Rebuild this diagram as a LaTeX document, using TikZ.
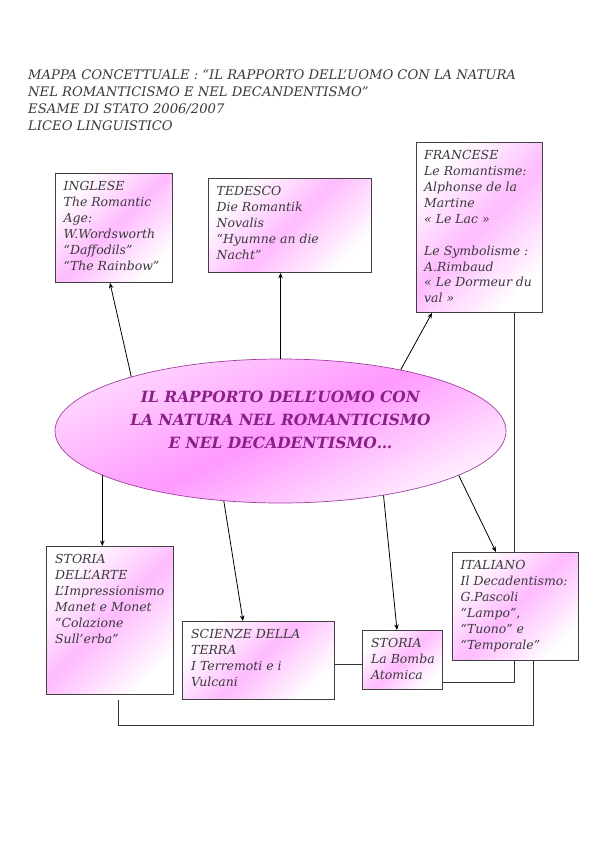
\documentclass[tikz,border=0pt]{standalone}
\usepackage{fontspec}
\setmainfont{DejaVu Serif}
\usetikzlibrary{calc,shapes.geometric,arrows.meta}
\definecolor{boxpink}{HTML}{FFBBFF}
\definecolor{ellpink}{HTML}{FF99FF}
\definecolor{elltop}{HTML}{FFD6FF}
\definecolor{ellbot}{HTML}{FFF2FF}
\definecolor{ellline}{HTML}{A040A0}
\definecolor{elltext}{HTML}{8A1F88}
\definecolor{boxline}{HTML}{404040}
\definecolor{txtgray}{HTML}{3A3A3A}
\definecolor{linegray}{HTML}{333333}
\tikzset{
  mbox/.style={draw=boxline, line width=0.9bp, anchor=north west, inner sep=0pt,
    top color=white, bottom color=white, middle color=boxpink, shading angle=45},
  mtext/.style={anchor=north west, inner sep=0pt, align=left,
    font=\itshape\fontsize{12.5}{16}\selectfont, text=txtgray},
  arr/.style={-{Stealth[length=5.5bp,width=4.5bp]}, line width=0.8bp, draw=black},
  conn/.style={line width=0.8bp, draw=linegray}
}
\begin{document}
\begin{tikzpicture}[x=1bp,y=-1bp]
\fill[white] (0,0) rectangle (596,842);
\useasboundingbox (0,0) rectangle (596,842);

% title
\node[anchor=north west, inner sep=0pt, align=left,
  font=\itshape\fontsize{13.2}{17}\selectfont, text=txtgray] (title) at (28,70)
  {MAPPA CONCETTUALE : “IL RAPPORTO DELL’UOMO CON LA NATURA\\
   NEL ROMANTICISMO E NEL DECANDENTISMO”\\
   ESAME DI STATO 2006/2007\\
   LICEO LINGUISTICO};

% boxes
\node[mbox, minimum width=117bp, minimum height=109bp] (ingl) at (55,173) {};
\node[mtext] (inglt) at ($(ingl.north west)+(8.5,8)$)
  {INGLESE\\The Romantic\\Age:\\W.Wordsworth\\“Daffodils”\\“The Rainbow”};

\node[mbox, minimum width=163bp, minimum height=94bp] (ted) at (208,178) {};
\node[mtext] (tedt) at ($(ted.north west)+(8.5,8)$)
  {TEDESCO\\Die Romantik\\Novalis\\“Hyumne an die\\Nacht”};

\node[mbox, minimum width=126bp, minimum height=170bp] (fran) at (416,142) {};
\node[mtext] (frant) at ($(fran.north west)+(8,8)$)
  {FRANCESE\\Le Romantisme:\\Alphonse de la\\Martine\\« Le Lac »\\ \mbox{}\\Le Symbolisme :\\A.Rimbaud\\« Le Dormeur du\\val »};

\node[mbox, minimum width=127bp, minimum height=148bp] (arte) at (46,546) {};
\node[mtext] (artet) at ($(arte.north west)+(9,8)$)
  {STORIA\\DELL’ARTE\\L’Impressionismo\\Manet e Monet\\“Colazione\\Sull’erba”};

\node[mbox, minimum width=152bp, minimum height=78bp] (sci) at (182,621) {};
\node[mtext] (scit) at ($(sci.north west)+(9,8.5)$)
  {SCIENZE DELLA\\TERRA\\I Terremoti e i\\Vulcani};

\node[mbox, minimum width=80bp, minimum height=59bp] (stor) at (362,630) {};
\node[mtext] (stort) at ($(stor.north west)+(9,8.5)$)
  {STORIA\\La Bomba\\Atomica};

\node[mbox, minimum width=126bp, minimum height=108bp] (ital) at (452,552) {};
\node[mtext] (italt) at ($(ital.north west)+(8.5,8.5)$)
  {ITALIANO\\Il Decadentismo:\\G.Pascoli\\“Lampo”,\\“Tuono” e\\“Temporale”};

% central ellipse
\node[ellipse, draw=ellline, line width=0.7bp, minimum width=451bp, minimum height=144bp,
  inner sep=0pt, top color=elltop, bottom color=ellbot, middle color=ellpink, shading angle=25]
  (ell) at (280.5,431) {};
\node[align=center, inner sep=0pt, text=elltext,
  font=\bfseries\itshape\fontsize{15.5}{23}\selectfont] (ellt) at ($(ell.center)+(0,-11)$)
  {IL RAPPORTO DELL’UOMO CON\\LA NATURA NEL ROMANTICISMO\\E NEL DECADENTISMO…};

% arrows
\coordinate (eN) at (ell.north);
\coordinate (eA) at (ell.194);
\draw[arr] (ell.160.95) -- ($(ingl.south west)+(55,0)$);
\draw[arr] (eN) -- (eN |- ted.south);
\draw[arr] (ell.27.4) -- ($(fran.south west)+(16,0)$);
\draw[arr] (eA) -- (eA |- arte.north);
\draw[arr] (ell.231.7) -- ($(sci.north west)+(61,0)$);
\draw[arr] (ell.328.5) -- ($(stor.north west)+(35,0)$);
\draw[arr] (ell.346.9) -- ($(ital.north west)+(44,0)$);

% plain connectors
\coordinate (fb) at ($(fran.south west)+(98.5,0)$);
\draw[conn] (fb) -- (fb |- ital.north);
\coordinate (ss) at ($(sci.east)+(0,4)$);
\draw[conn] (ss) -- (ss -| stor.west);
\coordinate (si) at ($(stor.south east)+(0,-7.5)$);
\coordinate (ib) at ($(ital.south west)+(62,0)$);
\draw[conn] (si) -| (ib);
\coordinate (ab) at ($(arte.south west)+(72,5)$);
\coordinate (ib2) at ($(ital.south west)+(81,0)$);
\coordinate (low) at (0,725);
\draw[conn] (ab) |- (ib2 |- low) -- (ib2);
\end{tikzpicture}
\end{document}
